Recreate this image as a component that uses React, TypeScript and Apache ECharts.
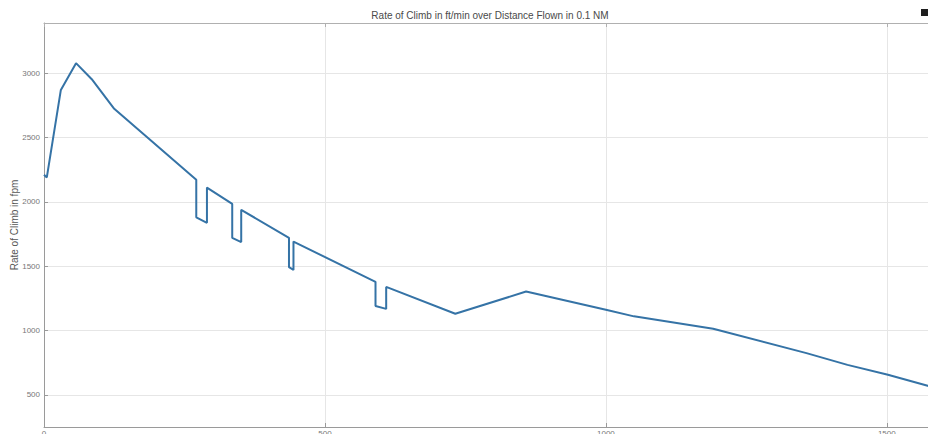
import React, { useEffect, useRef } from "react";
import * as echarts from "echarts";

// Distance flown (0.1 NM units) and rate of climb (ft/min) along the profile
const distance = [
  0, 5, 30, 57, 85, 125, 271, 271, 290, 290, 335, 335, 351, 351, 436, 436, 444, 444,
  590, 590, 609, 609, 732, 858, 1000, 1050, 1191, 1357, 1430, 1502, 1600,
];
const rateOfClimb = [
  2210, 2190, 2870, 3078, 2953, 2723, 2171, 1880, 1837, 2111, 1984, 1720, 1687, 1938,
  1720, 1492, 1471, 1691, 1378, 1191, 1168, 1339, 1130, 1303, 1161, 1110, 1013, 824,
  733, 656, 538,
];
const yTicks = [500, 1000, 1500, 2000, 2500, 3000];

const titleText = "Rate of Climb in ft/min over Distance Flown in 0.1 NM";
const yAxisName = "Rate of Climb in fpm";

const FONT = "'Liberation Sans', Arial, Helvetica, sans-serif";
const plain = (v: number) => String(v);

export default function App() {
  const ref = useRef<HTMLDivElement>(null);

  useEffect(() => {
    if (!ref.current) return;
    const chart = echarts.init(ref.current, undefined, { renderer: "svg" });
    const points = distance.map((d, i) => [d, rateOfClimb[i]]);

    chart.setOption({
      animation: false,
      backgroundColor: "#ffffff",
      textStyle: { fontFamily: FONT },
      title: {
        text: titleText,
        left: 490,
        textAlign: "center",
        top: 10,
        padding: 0,
        textStyle: { fontSize: 10, fontWeight: "normal", color: "#4a4a4a", fontFamily: FONT },
      },
      // the axes box runs past the right edge of the visible page
      grid: { left: 44, right: 17, top: 23, bottom: 23, outerBoundsMode: "none", containLabel: false },
      xAxis: [
        {
          type: "value",
          min: 0,
          max: 1600,
          interval: 500,
          position: "bottom",
          axisLine: { show: true, lineStyle: { color: "#9a9a9a", width: 1 } },
          axisTick: { show: true, inside: true, length: 4, lineStyle: { color: "#9a9a9a" } },
          axisLabel: { color: "#777", fontSize: 8, margin: 2, fontFamily: FONT, formatter: plain },
          splitLine: { show: true, lineStyle: { color: "#e6e6e6", width: 1 } },
        },
        {
          type: "value",
          min: 0,
          max: 1600,
          interval: 500,
          position: "top",
          axisLine: { show: true, lineStyle: { color: "#b0b0b0", width: 1 } },
          axisTick: { show: true, inside: true, length: 4, lineStyle: { color: "#b0b0b0" } },
          axisLabel: { show: false },
          splitLine: { show: false },
        },
      ],
      yAxis: {
        type: "value",
        min: 250,
        max: 3390,
        name: yAxisName,
        nameLocation: "middle",
        nameGap: 25,
        nameMoveOverlap: false,
        nameTextStyle: { fontSize: 10, color: "#555", fontFamily: FONT },
        axisLine: { show: true, lineStyle: { color: "#9a9a9a", width: 1 } },
        axisTick: {
          show: true,
          inside: true,
          length: 4,
          customValues: yTicks,
          lineStyle: { color: "#9a9a9a" },
        },
        axisLabel: {
          color: "#777",
          fontSize: 8,
          margin: 4,
          customValues: yTicks,
          fontFamily: FONT,
          formatter: plain,
        },
        splitLine: { show: true, lineStyle: { color: "#e6e6e6", width: 1 } },
      },
      graphic: [
        {
          type: "rect",
          shape: { x: 921, y: 9, width: 7, height: 7 },
          style: { fill: "#1e1e1e" },
          z: 100,
        },
      ],
      series: [
        {
          type: "line",
          xAxisIndex: 0,
          data: points,
          showSymbol: false,
          symbol: "none",
          clip: true,
          lineStyle: { color: "#3573a6", width: 2 },
          itemStyle: { color: "#3573a6" },
        },
      ],
    });

    return () => chart.dispose();
  }, []);

  return (
    <div
      ref={ref}
      style={{ position: "fixed", left: 0, top: 0, width: 960, height: 450, background: "#fff" }}
    />
  );
}
